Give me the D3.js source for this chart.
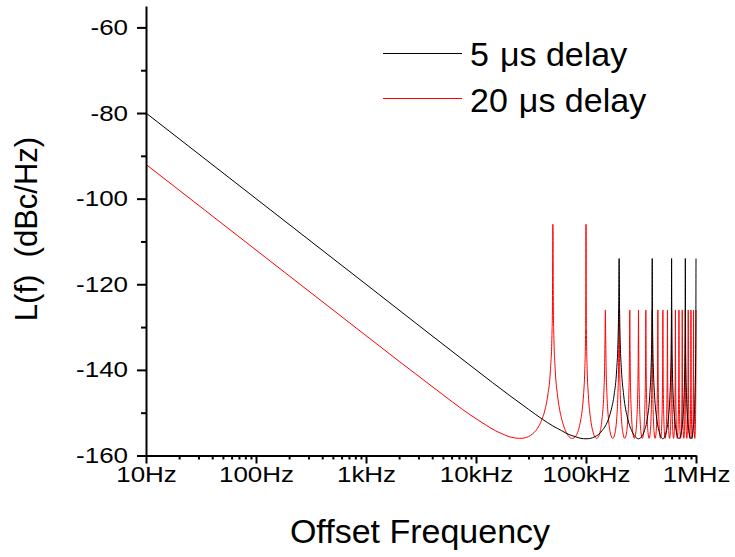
<!DOCTYPE html>
<html>
<head>
<meta charset="utf-8">
<script src="https://cdn.jsdelivr.net/npm/d3@7"></script>
<style>
  html, body { margin: 0; padding: 0; background: #fff; }
  svg { display: block; }
  svg text { font-family: Arial, "Liberation Sans", sans-serif !important; }
</style>
</head>
<body>
<svg id="chart" width="735" height="557"></svg>
<script>
// ---------- data (frequency in kHz, level in dBc/Hz) ----------
const seriesNames = ["5 \u03bcs delay", "20 \u03bcs delay"];
const seriesColors = ["#000000", "#ff0000"];

const blackFreq = [
  0.01, 0.1, 1, 10, 20, 30, 40, 50, 60, 70, 80, 90, 100, 110, 120, 130, 140, 150, 160, 170, 180, 190, 195, 198, 200,
  202, 205, 210, 220, 240, 260, 280, 300, 320, 340, 360, 380, 390, 395, 398, 400,
  402, 405, 410, 420, 440, 460, 480, 500, 520, 540, 560, 580, 590, 595, 598, 600,
  602, 605, 610, 620, 640, 660, 680, 700, 720, 740, 760, 780, 790, 795, 798, 800,
  802, 805, 810, 820, 840, 860, 880, 900, 920, 940, 960, 980, 990, 995, 998, 1000
];
const blackLevel = [
  -80, -100, -120, -140, -145.9, -149.2, -151.5, -153.1, -154.2, -155.1, -155.6, -156.0, -156.1, -156.0, -155.6, -155.1, -154.2, -153.1, -151.5, -149.2, -145.9, -140.0, -134.0, -126.0, -114,
  -126, -134, -140, -145.9, -151.5, -154.2, -155.6, -156.1, -155.6, -154.2, -151.5, -145.9, -140, -134, -126, -114,
  -126, -134, -140, -145.9, -151.5, -154.2, -155.6, -156.1, -155.6, -154.2, -151.5, -145.9, -140, -134, -126, -114,
  -126, -134, -140, -145.9, -151.5, -154.2, -155.6, -156.1, -155.6, -154.2, -151.5, -145.9, -140, -134, -126, -114,
  -126, -134, -140, -145.9, -151.5, -154.2, -155.6, -156.1, -155.6, -154.2, -151.5, -145.9, -140, -134, -126, -114
];

const redFreq = [
  0.01, 0.1, 1, 2, 5, 7.5, 10, 12.5, 15, 17.5, 20, 22.5, 25, 27.5, 30, 32.5, 35, 37.5, 40, 42.5, 45, 47.5, 49, 49.5, 50,
  50.5, 51, 52.5, 55, 57.5, 60, 62.5, 65, 70, 75, 80, 85, 87.5, 90, 92.5, 95, 97.5, 99, 99.5, 100,
  100.5, 101, 102.5, 105, 110, 115, 120, 125, 130, 135, 140, 145, 147.5, 149, 150,
  151, 152.5, 155, 160, 167.5, 175, 182.5, 190, 195, 197.5, 199, 200,
  201, 202.5, 205, 210, 217.5, 225, 232.5, 240, 245, 247.5, 249, 250,
  251, 252.5, 255, 260, 267.5, 275, 282.5, 290, 295, 297.5, 299, 300,
  301, 302.5, 305, 310, 317.5, 325, 332.5, 340, 345, 347.5, 349, 350,
  351, 352.5, 355, 360, 367.5, 375, 382.5, 390, 395, 397.5, 399, 400,
  401, 402.5, 405, 410, 417.5, 425, 432.5, 440, 445, 447.5, 449, 450,
  451, 452.5, 455, 460, 467.5, 475, 482.5, 490, 495, 497.5, 499, 500,
  501, 502.5, 505, 510, 517.5, 525, 532.5, 540, 545, 547.5, 549, 550,
  551, 552.5, 555, 560, 567.5, 575, 582.5, 590, 595, 597.5, 599, 600,
  601, 602.5, 605, 610, 617.5, 625, 632.5, 640, 645, 647.5, 649, 650,
  651, 652.5, 655, 660, 667.5, 675, 682.5, 690, 695, 697.5, 699, 700,
  701, 702.5, 705, 710, 717.5, 725, 732.5, 740, 745, 747.5, 749, 750,
  751, 752.5, 755, 760, 767.5, 775, 782.5, 790, 795, 797.5, 799, 800,
  801, 802.5, 805, 810, 817.5, 825, 832.5, 840, 845, 847.5, 849, 850,
  851, 852.5, 855, 860, 867.5, 875, 882.5, 890, 895, 897.5, 899, 900,
  901, 902.5, 905, 910, 917.5, 925, 932.5, 940, 945, 947.5, 949, 950,
  951, 952.5, 955, 960, 967.5, 975, 982.5, 990, 995, 997.5, 999, 1000
];
const redLevel = [
  -92, -112, -132, -138, -145.8, -149.2, -151.4, -153.0, -154.2, -155.0, -155.6, -155.9, -156.0, -155.9, -155.6, -155.0, -154.2, -153.0, -151.4, -149.2, -145.8, -140.0, -132.0, -126.0, -106,
  -126, -132, -140, -145.8, -149.2, -151.4, -153.0, -154.2, -155.6, -156.0, -155.6, -154.2, -153.0, -151.4, -149.2, -145.8, -140, -132, -126, -106,
  -126, -132, -140, -145.8, -151.4, -154.2, -155.6, -156, -155.6, -154.2, -151.4, -145.8, -140, -132, -126,
  -132, -140, -145.8, -151.4, -155, -156, -155, -151.4, -145.8, -140, -132, -126,
  -132, -140, -145.8, -151.4, -155, -156, -155, -151.4, -145.8, -140, -132, -126,
  -132, -140, -145.8, -151.4, -155, -156, -155, -151.4, -145.8, -140, -132, -126,
  -132, -140, -145.8, -151.4, -155, -156, -155, -151.4, -145.8, -140, -132, -126,
  -132, -140, -145.8, -151.4, -155, -156, -155, -151.4, -145.8, -140, -132, -126,
  -132, -140, -145.8, -151.4, -155, -156, -155, -151.4, -145.8, -140, -132, -126,
  -132, -140, -145.8, -151.4, -155, -156, -155, -151.4, -145.8, -140, -132, -126,
  -132, -140, -145.8, -151.4, -155, -156, -155, -151.4, -145.8, -140, -132, -126,
  -132, -140, -145.8, -151.4, -155, -156, -155, -151.4, -145.8, -140, -132, -126,
  -132, -140, -145.8, -151.4, -155, -156, -155, -151.4, -145.8, -140, -132, -126,
  -132, -140, -145.8, -151.4, -155, -156, -155, -151.4, -145.8, -140, -132, -126,
  -132, -140, -145.8, -151.4, -155, -156, -155, -151.4, -145.8, -140, -132, -126,
  -132, -140, -145.8, -151.4, -155, -156, -155, -151.4, -145.8, -140, -132, -126,
  -132, -140, -145.8, -151.4, -155, -156, -155, -151.4, -145.8, -140, -132, -126,
  -132, -140, -145.8, -151.4, -155, -156, -155, -151.4, -145.8, -140, -132, -126,
  -132, -140, -145.8, -151.4, -155, -156, -155, -151.4, -145.8, -140, -132, -126,
  -132, -140, -145.8, -151.4, -155, -156, -155, -151.4, -145.8, -140, -132, -126
];

const xTickValues = [0.01, 0.1, 1, 10, 100, 1000];
const xTickLabels = ["10Hz", "100Hz", "1kHz", "10kHz", "100kHz", "1MHz"];
const yTickValues = [-160, -140, -120, -100, -80, -60];
const yTickLabels = ["-160", "-140", "-120", "-100", "-80", "-60"];
const yMinorValues = [-150, -130, -110, -90, -70];
const xAxisTitle = "Offset Frequency";
const yAxisTitle = "L(f)  (dBc/Hz)";

// ---------- layout ----------
const svg = d3.select("#chart");
const x = d3.scaleLog().domain([0.01, 1000]).range([146, 696]);
const y = d3.scaleLinear().domain([-160, -55]).range([455.5, 6]);

const xMinor = [];
xTickValues.slice(0, -1).forEach(d => { for (let k = 2; k <= 9; k++) xMinor.push(d * k); });

// series lines (red first, black on top)
const line = d3.line().x(d => x(d[0])).y(d => y(d[1])).curve(d3.curveMonotoneX);
const redPts = redFreq.map((f, i) => [f, redLevel[i]]);
const blackPts = blackFreq.map((f, i) => [f, blackLevel[i]]);
svg.append("path").datum(redPts).attr("d", line)
  .attr("fill", "none").attr("stroke", seriesColors[1]).attr("stroke-width", 1);
svg.append("path").datum(blackPts).attr("d", line)
  .attr("fill", "none").attr("stroke", seriesColors[0]).attr("stroke-width", 1);

// axes
const TICK_SX = 1.18;
const xAxis = svg.append("g").attr("transform", "translate(0,455.5)")
  .call(d3.axisBottom(x).tickValues(xTickValues).tickFormat((d, i) => xTickLabels[i])
        .tickSize(8).tickSizeOuter(0).tickPadding(3));
svg.append("g").attr("transform", "translate(0,455.5)")
  .call(d3.axisBottom(x).tickValues(xMinor).tickFormat("").tickSize(4).tickSizeOuter(0))
  .select(".domain").remove();

const yAxis = svg.append("g").attr("transform", "translate(146,0)")
  .call(d3.axisLeft(y).tickValues(yTickValues).tickFormat((d, i) => yTickLabels[i])
        .tickSize(9).tickSizeOuter(0).tickPadding(9));
svg.append("g").attr("transform", "translate(146,0)")
  .call(d3.axisLeft(y).tickValues(yMinorValues).tickFormat("").tickSize(5).tickSizeOuter(0))
  .select(".domain").remove();

svg.selectAll(".domain, .tick line").attr("stroke", "#000").attr("stroke-width", 2);
xAxis.selectAll("text").attr("font-size", 22).attr("fill", "#000")
  .attr("transform", `scale(${TICK_SX},1)`);
yAxis.selectAll("text").attr("font-size", 22).attr("fill", "#000")
  .attr("x", -18 / TICK_SX)
  .attr("transform", `scale(${TICK_SX},1)`);

// axis titles
svg.append("text").attr("x", 420).attr("y", 543).attr("text-anchor", "middle")
  .attr("font-size", 34).attr("fill", "#000").text(xAxisTitle);
svg.append("text").attr("transform", "translate(37,229) rotate(-90)")
  .attr("text-anchor", "middle").attr("font-size", 31).attr("fill", "#000")
  .style("white-space", "pre").text(yAxisTitle);

// legend
const legendY = [53.5, 98.5];
const legendBase = [66, 111.5];
seriesNames.forEach((name, i) => {
  svg.append("line").attr("x1", 383).attr("x2", 462).attr("y1", legendY[i]).attr("y2", legendY[i])
    .attr("stroke", seriesColors[i]).attr("stroke-width", 1);
  const parts = name.split(" \u03bc");
  const t = svg.append("text").attr("x", 470).attr("y", legendBase[i])
    .attr("font-size", 34).attr("fill", "#000");
  t.append("tspan").text(parts[0]);
  t.append("tspan").attr("dx", 11).text("\u03bc" + parts[1]);
});
</script>
</body>
</html>
